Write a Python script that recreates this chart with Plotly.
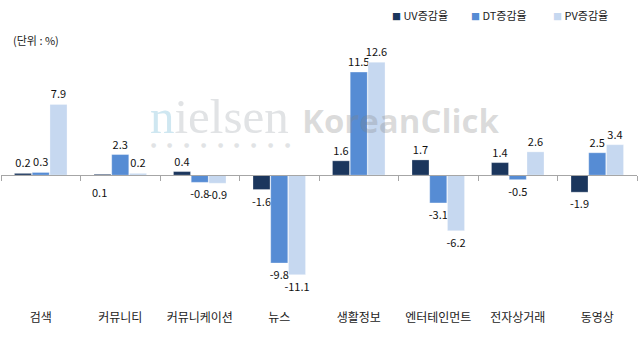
import plotly.graph_objects as go

categories = ["검색", "커뮤니티", "커뮤니케이션", "뉴스", "생활정보", "엔터테인먼트", "전자상거래", "동영상"]
series_names = ["UV증감율", "DT증감율", "PV증감율"]
uv = [0.2, 0.1, 0.4, -1.6, 1.6, 1.7, 1.4, -1.9]
dt = [0.3, 2.3, -0.8, -9.8, 11.5, -3.1, -0.5, 2.5]
pv = [7.9, 0.2, -0.9, -11.1, 12.6, -6.2, 2.6, 3.4]
series_values = [uv, dt, pv]
colors = ["#1B365D", "#568CD4", "#C6D8F0"]
# labels that the original chart draws below the axis
below_labels = [("UV증감율", "커뮤니티")]
unit_text = "(단위 : %)"

FONT = "Noto Sans CJK KR"
YMIN, YMAX = -14.6, 16.2
W, H = 640, 340
ML, MR, MT, MB = 1, 3, 30, 34
PW, PH = W - ML - MR, H - MT - MB


def px(xp):
    return (xp - ML) / PW


def py(yp):
    return (H - MB - yp) / PH


fig = go.Figure()
annotations = []
for name, vals, col in zip(series_names, series_values, colors):
    texts = []
    for c, v in zip(categories, vals):
        if (name, c) in below_labels:
            texts.append("")
            annotations.append(dict(x=c, y=0, xref="x", yref="y", text=f"{v:.1f}",
                                    showarrow=False, yshift=-17,
                                    xshift=(series_names.index(name) - 1) * 21,
                                    font=dict(family=FONT, size=11, color="#111")))
        else:
            texts.append(f"{v:.1f}")
    fig.add_trace(go.Bar(
        x=categories, y=vals, name=name, text=texts,
        textposition="outside", cliponaxis=False, constraintext="none",
        textfont=dict(family=FONT, size=11, color="#111"),
        marker=dict(color=col, line=dict(color="rgba(255,255,255,0.5)", width=0.6)),
        showlegend=False,
    ))

# invisible helper trace for the zero-line axis with boundary ticks
fig.add_trace(go.Scatter(x=categories, y=[0] * len(categories), xaxis="x2", mode="lines",
                         line=dict(width=0), hoverinfo="skip", showlegend=False))

zero_pos = (0 - YMIN) / (YMAX - YMIN)

# legend drawn as text
leg_x = [390, 469, 551]
for name, col, lx in zip(series_names, colors, leg_x):
    annotations.append(dict(
        x=px(lx), y=py(15), xref="paper", yref="paper", xanchor="left", yanchor="middle",
        text=f"<span style='color:{col};font-size:9px'>■</span> {name}",
        showarrow=False, font=dict(family=FONT, size=11, color="#222")))

annotations.append(dict(x=px(11), y=py(40), xref="paper", yref="paper",
                        xanchor="left", yanchor="middle", text=unit_text, showarrow=False,
                        font=dict(family=FONT, size=11, color="#222")))

# watermark
annotations.append(dict(x=px(219), y=py(116), xref="paper", yref="paper",
                        xanchor="center", yanchor="middle",
                        text="<span style='color:#CFE7F1'>n</span>ielsen",
                        showarrow=False,
                        font=dict(family="Liberation Serif", size=49, color="#E1E3E5")))
for i in range(9):
    annotations.append(dict(x=px(153 + i * 16.8), y=py(144), xref="paper", yref="paper",
                            xanchor="center", yanchor="middle", text="●", showarrow=False,
                            font=dict(family="DejaVu Sans", size=6, color="#E1E3E5")))
annotations.append(dict(x=px(401), y=py(120), xref="paper", yref="paper",
                        xanchor="center", yanchor="middle", text="KoreanClick", showarrow=False,
                        font=dict(family="Open Sans", size=33, color="rgba(130,130,130,0.28)",
                                  weight="bold")))

fig.update_layout(
    width=W, height=H,
    margin=dict(l=ML, r=MR, t=MT, b=MB),
    paper_bgcolor="white", plot_bgcolor="white",
    barmode="group", bargap=0.33, bargroupgap=0.04,
    font=dict(family=FONT, size=11, color="#222"),
    xaxis=dict(type="category", categoryarray=categories, range=[-0.5, 7.5],
               showline=False, ticks="", showgrid=False, ticklabelstandoff=3,
               tickfont=dict(family=FONT, size=12, color="#222")),
    xaxis2=dict(type="category", categoryarray=categories, range=[-0.5, 7.5],
                overlaying="x", anchor="free", position=zero_pos, side="bottom",
                showline=True, linecolor="#A6A6A6", linewidth=1,
                ticks="outside", ticklen=5, tickcolor="#A6A6A6", tickson="boundaries",
                showticklabels=False, showgrid=False),
    yaxis=dict(range=[YMIN, YMAX], visible=False, showgrid=False, zeroline=False),
    annotations=annotations,
)

fig.write_html("out.html")
